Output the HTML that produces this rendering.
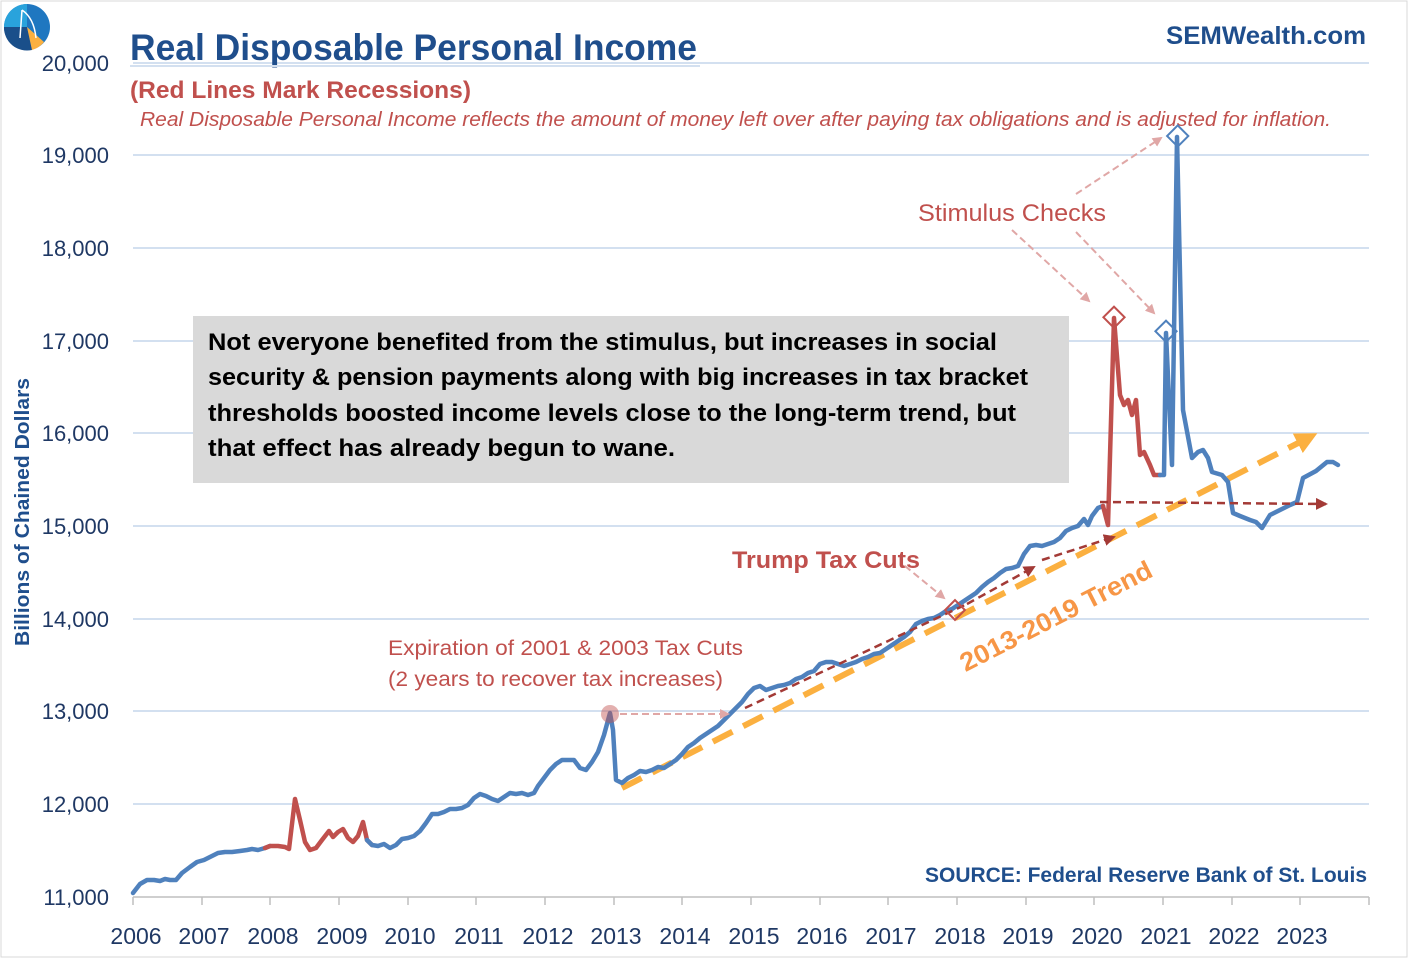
<!DOCTYPE html>
<html><head><meta charset="utf-8"><style>
html,body{margin:0;padding:0;background:#fff}
svg{display:block}
text{font-family:"Liberation Sans",sans-serif}
</style></head><body>
<svg width="1408" height="958" viewBox="0 0 1408 958" xmlns="http://www.w3.org/2000/svg">
<defs>
<marker id="ap" markerWidth="10" markerHeight="10" refX="8" refY="5" orient="auto" markerUnits="userSpaceOnUse"><path d="M0,0 L10,5 L0,10 z" fill="#e0a7a6"/></marker>
<marker id="ad" markerWidth="12" markerHeight="12" refX="10" refY="6" orient="auto" markerUnits="userSpaceOnUse"><path d="M0,0 L12,6 L0,12 z" fill="#a33a36"/></marker>
<marker id="ao" markerWidth="22" markerHeight="22" refX="16" refY="11" orient="auto" markerUnits="userSpaceOnUse"><path d="M0,0 L22,11 L0,22 z" fill="#fbb040"/></marker>
</defs>
<rect x="1" y="1" width="1406" height="956" fill="#fff" stroke="#d9d9d9"/>
<g stroke="#d3e0f0" stroke-width="2">
<line x1="133" y1="63" x2="1369" y2="63"/><line x1="133" y1="155" x2="1369" y2="155"/>
<line x1="133" y1="248" x2="1369" y2="248"/><line x1="133" y1="341" x2="1369" y2="341"/>
<line x1="133" y1="433" x2="1369" y2="433"/><line x1="133" y1="526" x2="1369" y2="526"/>
<line x1="133" y1="619" x2="1369" y2="619"/><line x1="133" y1="711" x2="1369" y2="711"/>
<line x1="133" y1="804" x2="1369" y2="804"/>
</g>
<line x1="133" y1="897" x2="1369" y2="897" stroke="#bfbfbf" stroke-width="1.5"/>
<g stroke="#bfbfbf" stroke-width="1.5">
<line x1="133" y1="897" x2="133" y2="905"/><line x1="202" y1="897" x2="202" y2="905"/><line x1="270" y1="897" x2="270" y2="905"/><line x1="339" y1="897" x2="339" y2="905"/><line x1="408" y1="897" x2="408" y2="905"/><line x1="476" y1="897" x2="476" y2="905"/><line x1="545" y1="897" x2="545" y2="905"/><line x1="614" y1="897" x2="614" y2="905"/><line x1="682" y1="897" x2="682" y2="905"/><line x1="751" y1="897" x2="751" y2="905"/><line x1="820" y1="897" x2="820" y2="905"/><line x1="888" y1="897" x2="888" y2="905"/><line x1="957" y1="897" x2="957" y2="905"/><line x1="1026" y1="897" x2="1026" y2="905"/><line x1="1094" y1="897" x2="1094" y2="905"/><line x1="1163" y1="897" x2="1163" y2="905"/><line x1="1232" y1="897" x2="1232" y2="905"/><line x1="1300" y1="897" x2="1300" y2="905"/><line x1="1369" y1="897" x2="1369" y2="905"/>
</g>
<g font-size="22" fill="#1f3864" text-anchor="end">
<text x="109" y="71">20,000</text><text x="109" y="163">19,000</text><text x="109" y="256">18,000</text><text x="109" y="349">17,000</text><text x="109" y="441">16,000</text><text x="109" y="534">15,000</text><text x="109" y="627">14,000</text><text x="109" y="719">13,000</text><text x="109" y="812">12,000</text><text x="109" y="905">11,000</text>
</g>
<g font-size="23" fill="#1f3864" text-anchor="middle">
<text x="136" y="944">2006</text><text x="204" y="944">2007</text><text x="273" y="944">2008</text><text x="342" y="944">2009</text><text x="410" y="944">2010</text><text x="479" y="944">2011</text><text x="548" y="944">2012</text><text x="616" y="944">2013</text><text x="685" y="944">2014</text><text x="754" y="944">2015</text><text x="822" y="944">2016</text><text x="891" y="944">2017</text><text x="960" y="944">2018</text><text x="1028" y="944">2019</text><text x="1097" y="944">2020</text><text x="1166" y="944">2021</text><text x="1234" y="944">2022</text><text x="1302" y="944">2023</text>
</g>
<text transform="translate(29,512) rotate(-90)" font-size="20" font-weight="bold" fill="#1f4e8c" text-anchor="middle" textLength="268" lengthAdjust="spacingAndGlyphs">Billions of Chained Dollars</text>
<!-- logo -->
<circle cx="27" cy="27" r="23" fill="#1f77c0"/>
<path d="M27,27 L4,27 A23,23 0 0 1 27,4 z" fill="#29a3dc"/>
<path d="M27,27 L4,27 A23,23 0 0 0 32,50 z" fill="#1a4f8a"/>
<path d="M27,27 L32,50 A23,23 0 0 0 44,42 z" fill="#fbb040"/>
<path d="M22,10 L20,38 M22,10 Q34,18 36,38" stroke="#fff" stroke-width="1.5" fill="none"/>
<text x="130" y="60" font-size="37" font-weight="bold" fill="#1f4e8c" textLength="567" lengthAdjust="spacingAndGlyphs">Real Disposable Personal Income</text>
<line x1="130" y1="66" x2="700" y2="66" stroke="#d3e0f0" stroke-width="2"/>
<text x="1366" y="44" font-size="25" font-weight="bold" fill="#1f4e8c" text-anchor="end" textLength="200" lengthAdjust="spacingAndGlyphs">SEMWealth.com</text>
<text x="130" y="98" font-size="24" font-weight="bold" fill="#c0504d" textLength="341" lengthAdjust="spacingAndGlyphs">(Red Lines Mark Recessions)</text>
<text x="140" y="126" font-size="20" font-style="italic" fill="#c0504d" textLength="1191" lengthAdjust="spacingAndGlyphs">Real Disposable Personal Income reflects the amount of money left over after paying tax obligations and is adjusted for inflation.</text>
<rect x="193" y="316" width="876" height="167" fill="#d9d9d9"/>
<g font-size="24" font-weight="bold" fill="#000" lengthAdjust="spacingAndGlyphs">
<text x="208" y="350" textLength="789" lengthAdjust="spacingAndGlyphs">Not everyone benefited from the stimulus, but increases in social</text>
<text x="208" y="385" textLength="820" lengthAdjust="spacingAndGlyphs">security &amp; pension payments along with big increases in tax bracket</text>
<text x="208" y="421" textLength="808" lengthAdjust="spacingAndGlyphs">thresholds boosted income levels close to the long-term trend, but</text>
<text x="208" y="456" textLength="467" lengthAdjust="spacingAndGlyphs">that effect has already begun to wane.</text>
</g>
<text x="1012" y="221" font-size="24" fill="#c0504d" text-anchor="middle" textLength="188" lengthAdjust="spacingAndGlyphs">Stimulus Checks</text>
<text x="826" y="568" font-size="24" font-weight="bold" fill="#c0504d" text-anchor="middle" textLength="188" lengthAdjust="spacingAndGlyphs">Trump Tax Cuts</text>
<text x="388" y="655" font-size="21" fill="#c0504d" textLength="355" lengthAdjust="spacingAndGlyphs">Expiration of 2001 &amp; 2003 Tax Cuts</text>
<text x="388" y="686" font-size="21" fill="#c0504d" textLength="335" lengthAdjust="spacingAndGlyphs">(2 years to recover tax increases)</text>
<text x="1060" y="624" font-size="26" font-weight="bold" fill="#f79646" text-anchor="middle" transform="rotate(-27 1060 624)" textLength="212" lengthAdjust="spacingAndGlyphs">2013-2019 Trend</text>
<text x="1367" y="882" font-size="21" font-weight="bold" fill="#1f4e8c" text-anchor="end" textLength="442" lengthAdjust="spacingAndGlyphs">SOURCE:  Federal Reserve Bank of St. Louis</text>
<!-- trend -->
<line x1="622" y1="788" x2="1312" y2="436" stroke="#fbb040" stroke-width="6" stroke-dasharray="22,12" marker-end="url(#ao)"/>
<!-- series -->
<g fill="none" stroke-width="4.5" stroke-linejoin="round" stroke-linecap="round">
<polyline stroke="#4f81bd" points="133,893 140,884 147,880 154,880 160,881 165,879 170,880 176,880 182,873 190,867 197,862 204,860 210,857 218,853 225,852 232,852 240,851 247,850 252,849 258,850 265,848 270,846"/>
<polyline stroke="#c0504d" points="265,848 270,846 278,846 285,847 289,849 295,799 300,820 305,842 310,850 316,848 322,840 329,831 333,837 338,832 343,829 348,838 353,842 358,836 363,822 367,840 372,845"/>
<polyline stroke="#4f81bd" points="367,840 372,845 378,846 384,844 390,848 396,845 402,839 408,838 414,836 420,831 426,823 432,814 438,814 444,812 450,809 456,809 462,808 468,805 474,798 480,794 486,796 492,799 498,801 504,797 510,793 516,794 522,793 528,795 534,793 538,786 544,778 550,770 556,764 562,760 568,760 574,760 580,768 586,770 592,762 598,752 604,735 610,713 613,730 616,780 622,783 628,778 634,775 640,771 646,772 652,770 658,767 664,768 670,764 676,760 682,754 688,747 694,743 700,738 706,734 712,730 718,726 724,720 730,714 736,708 742,702 748,694 754,688 760,686 766,690 772,688 778,686 784,685 790,683 796,679 802,677 808,673 814,671 820,664 826,662 832,662 838,664 844,666 850,664 856,662 862,659 868,657 874,654 880,653 886,649 892,645 898,641 904,637 910,632 916,624 922,621 928,619 934,618 940,615 946,611 952,609 958,605 964,601 970,597 976,593 982,587 988,582 994,578 1000,573 1006,569 1012,568 1018,566 1024,554 1030,546 1036,545 1042,546 1048,544 1054,542 1060,538 1066,531 1072,528 1078,526 1084,519 1088,525 1092,516 1098,508 1103,506"/>
<polyline stroke="#c0504d" points="1103,506 1108,525 1114,318 1120,395 1124,405 1128,400 1132,415 1136,400 1140,455 1144,452 1150,465 1154,475 1160,475"/>
<polyline stroke="#4f81bd" points="1160,475 1164,475 1166,333 1172,465 1177,137 1183,410 1192,458 1198,452 1203,450 1208,458 1212,472 1222,475 1228,482 1233,513 1240,516 1250,520 1256,522 1262,528 1270,515 1280,510 1290,505 1297,502 1303,478 1316,471 1327,462 1333,462 1338,465"/>
</g>
<!-- dark red dashed -->
<g stroke="#a33a36" stroke-width="2.5" stroke-dasharray="8,5" fill="none">
<line x1="745" y1="708" x2="967" y2="604"/>
<line x1="967" y1="604" x2="1034" y2="567" marker-end="url(#ad)"/>
<line x1="1042" y1="560" x2="1114" y2="537" marker-end="url(#ad)"/>
<line x1="1100" y1="502" x2="1326" y2="504" marker-end="url(#ad)"/>
</g>
<!-- pink annotations -->
<circle cx="610" cy="714" r="9" fill="#c0504d" fill-opacity="0.45"/>
<g stroke="#e0a7a6" stroke-width="2" stroke-dasharray="7,4" fill="none">
<line x1="620" y1="714" x2="728" y2="714" marker-end="url(#ap)"/>
<line x1="905" y1="566" x2="944" y2="598" marker-end="url(#ap)"/>
<line x1="1012" y1="230" x2="1089" y2="301" marker-end="url(#ap)"/>
<line x1="1076" y1="232" x2="1154" y2="313" marker-end="url(#ap)"/>
<line x1="1076" y1="194" x2="1161" y2="138" marker-end="url(#ap)"/>
</g>
<g fill="#fff" stroke-width="2">
<rect x="948" y="603" width="14" height="14" transform="rotate(45 955 610)" fill="none" stroke="#c0504d"/>
<rect x="1106" y="310" width="15" height="15" transform="rotate(45 1114 318)" fill="none" stroke="#c0504d"/>
<rect x="1158" y="324" width="15" height="15" transform="rotate(45 1166 332)" fill="none" stroke="#4f81bd"/>
<rect x="1170" y="128" width="15" height="15" transform="rotate(45 1177 136)" fill="none" stroke="#4f81bd"/>
</g>
</svg>
</body></html>
